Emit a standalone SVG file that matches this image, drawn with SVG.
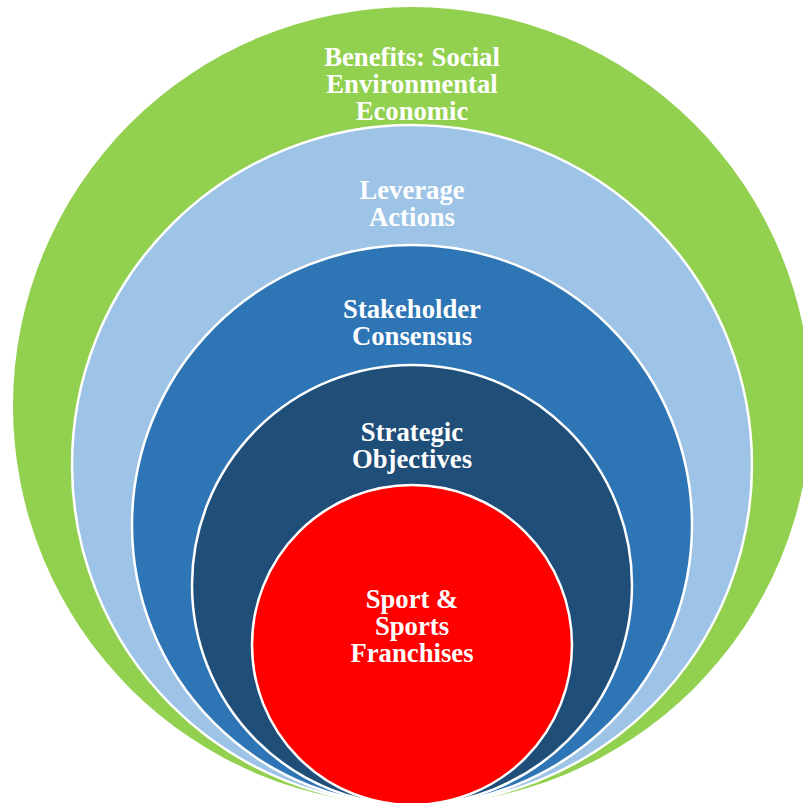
<svg xmlns="http://www.w3.org/2000/svg" width="803" height="803" viewBox="0 0 803 803">
<style>
.lbl{font-family:"Liberation Serif","Times New Roman",serif;font-weight:bold;font-size:26.7px;fill:#ffffff;text-anchor:middle}
.ring{stroke:#ffffff;stroke-width:2.5}
</style>
<rect width="803" height="803" fill="#ffffff"/>
<g id="benefits">
<circle cx="412" cy="406" r="399" fill="#92D050"/>
<text class="lbl" x="412" y="66">Benefits: Social</text>
<text class="lbl" x="412" y="93">Environmental</text>
<text class="lbl" x="412" y="120">Economic</text>
</g>
<g id="leverage">
<circle class="ring" cx="412" cy="465" r="340" fill="#9DC3E6"/>
<text class="lbl" x="412" y="199">Leverage</text>
<text class="lbl" x="412" y="226">Actions</text>
</g>
<g id="stakeholder">
<circle class="ring" cx="412" cy="525" r="280" fill="#2E75B6"/>
<text class="lbl" x="412" y="318">Stakeholder</text>
<text class="lbl" x="412" y="345">Consensus</text>
</g>
<g id="strategic">
<circle class="ring" cx="412" cy="585" r="220" fill="#1F4E79"/>
<text class="lbl" x="412" y="441">Strategic</text>
<text class="lbl" x="412" y="468">Objectives</text>
</g>
<g id="sport">
<circle class="ring" cx="412" cy="645" r="160" fill="#FF0000"/>
<text class="lbl" x="412" y="608">Sport &amp;</text>
<text class="lbl" x="412" y="635">Sports</text>
<text class="lbl" x="412" y="662">Franchises</text>
</g>
<g id="connectors"/>
</svg>
